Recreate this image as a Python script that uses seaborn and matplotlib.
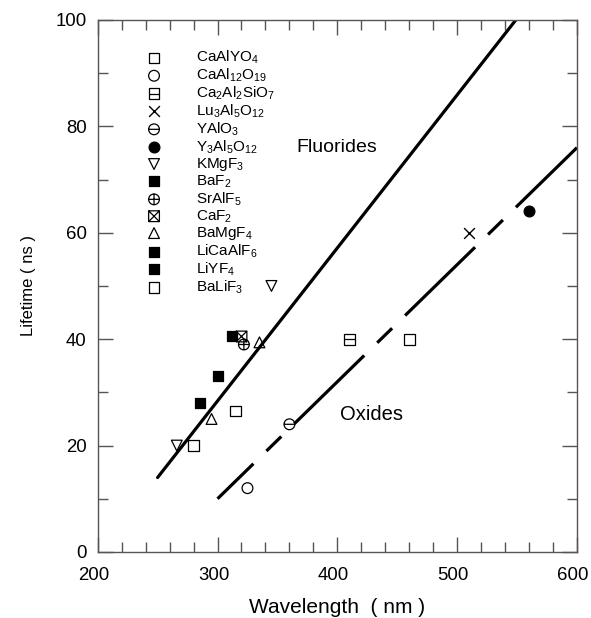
import numpy as np
import seaborn as sns
import matplotlib.pyplot as plt
from matplotlib.path import Path
from matplotlib.transforms import ScaledTranslation

# compounds, in legend order
names = ['CaAlYO$_4$', 'CaAl$_{12}$O$_{19}$', 'Ca$_2$Al$_2$SiO$_7$',
         'Lu$_3$Al$_5$O$_{12}$', 'YAlO$_3$', 'Y$_3$Al$_5$O$_{12}$',
         'KMgF$_3$', 'BaF$_2$', 'SrAlF$_5$', 'CaF$_2$', 'BaMgF$_4$',
         'LiCaAlF$_6$', 'LiYF$_4$', 'BaLiF$_3$']
wavelength = [[460], [325], [410], [510], [360], [560],
              [266, 345], [312], [322], [320], [295, 335],
              [300], [285], [280, 315]]
lifetime = [[40], [12], [40], [60], [24], [64],
            [20, 50], [40.5], [39], [40.5], [25, 39.4],
            [33], [28], [20, 26.5]]

# fitted lines
fluor_x = [250, 549]
fluor_y = [14, 100]
oxide_x = [300, 600]
oxide_y = [10, 76]

# custom marker shapes
sq = [[-1, -1], [1, -1], [1, 1], [-1, 1], [-1, -1]]
sq_codes = [Path.MOVETO] + [Path.LINETO] * 4
hline = Path([[-1, 0], [1, 0]], [Path.MOVETO, Path.LINETO])
vline = Path([[0, -1], [0, 1]], [Path.MOVETO, Path.LINETO])
box_minus = Path.make_compound_path(Path(sq, sq_codes), hline)
box_x = Path.make_compound_path(
    Path(sq, sq_codes),
    Path([[-1, -1], [1, 1]], [Path.MOVETO, Path.LINETO]),
    Path([[-1, 1], [1, -1]], [Path.MOVETO, Path.LINETO]))
circ_minus = Path.make_compound_path(Path.unit_circle(), hline)
circ_plus = Path.make_compound_path(Path.unit_circle(), hline, vline)

markers = ['s', 'o', box_minus, 'x', circ_minus, 'o', 'v', 's',
           circ_plus, box_x, '^', 's', 's', 's']
filled = [False, False, False, False, False, True, False, True,
          False, False, False, True, True, False]


def main():
    sns.set_style('ticks')
    plt.rcParams['font.family'] = ['Liberation Sans', 'DejaVu Sans']
    plt.rcParams['mathtext.fontset'] = 'custom'
    plt.rcParams['mathtext.rm'] = 'Liberation Sans'
    plt.rcParams['mathtext.default'] = 'regular'
    plt.rcParams['text.color'] = 'black'
    plt.rcParams['axes.labelcolor'] = 'black'

    fig = plt.figure(figsize=(5.91, 6.18), dpi=100)
    ax = fig.add_axes([0.1653, 0.1068, 0.811, 0.861])

    for i, name in enumerate(names):
        if markers[i] == 'x':
            sns.scatterplot(x=wavelength[i], y=lifetime[i], marker='x',
                            s=60, color='black', linewidth=1.0,
                            label=name, ax=ax)
        else:
            sns.scatterplot(x=wavelength[i], y=lifetime[i],
                            marker=markers[i], s=60,
                            facecolor='black' if filled[i] else 'none',
                            edgecolor='black', linewidth=0.9,
                            label=name, ax=ax, zorder=3)

    sns.lineplot(x=fluor_x, y=fluor_y, color='black', lw=2.3, ax=ax,
                 legend=False)
    sns.lineplot(x=oxide_x, y=oxide_y, color='black', lw=2.3, ax=ax,
                 legend=False, linestyle=(14.9, (30.6, 5.7, 6.5, 5.7)))

    ax.text(366, 76, 'Fluorides', fontsize=14, va='center')
    ax.text(402, 25.8, 'Oxides', fontsize=14.5, va='center')

    ax.set_xlim(200, 600)
    ax.set_ylim(0, 100)
    ax.set_xticks(np.arange(200, 601, 100))
    ax.set_xticks(np.arange(200, 601, 20), minor=True)
    ax.set_yticks(np.arange(0, 101, 20))
    ax.set_yticks(np.arange(0, 101, 10), minor=True)
    ax.tick_params(which='both', direction='in', top=True, right=True,
                   color='#555555', labelcolor='black', labelsize=13.4,
                   width=1.0, pad=8)
    ax.tick_params(axis='x', which='major', pad=11)
    ax.tick_params(which='major', length=11)
    ax.tick_params(which='minor', length=7)
    for sp in ax.spines.values():
        sp.set_color('#555555')
        sp.set_linewidth(1.0)

    # x tick labels sit a little left of their ticks in the original
    shift = ScaledTranslation(-4 / 100, 0, fig.dpi_scale_trans)
    for lab in ax.get_xticklabels():
        lab.set_transform(lab.get_transform() + shift)

    ax.set_xlabel('Wavelength  ( nm )', fontsize=15, labelpad=10)
    ax.set_ylabel('Lifetime ( ns )', fontsize=12, labelpad=14)

    ax.legend(loc='upper left', bbox_to_anchor=(0.1016, 0.9455),
              frameon=False, fontsize=11, borderpad=0, borderaxespad=0,
              handlelength=1, handletextpad=2.25, labelspacing=0.03)

    plt.savefig('out.png', dpi=100)


if __name__ == '__main__':
    main()
